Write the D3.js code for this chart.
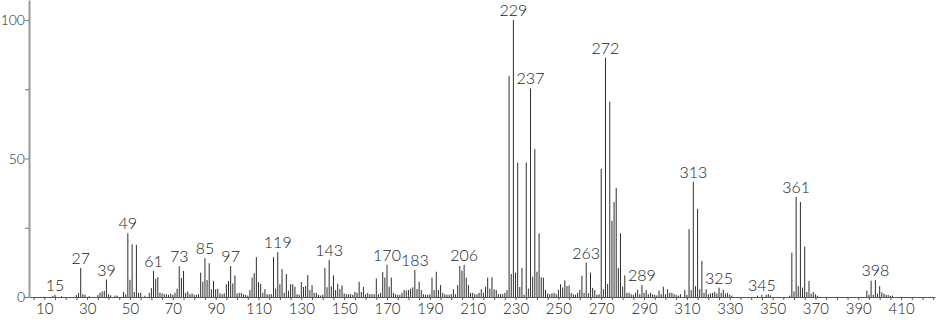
<!DOCTYPE html>
<html>
<head>
<meta charset="utf-8">
<script src="https://cdn.jsdelivr.net/npm/d3@7"></script>
<style>
  html, body { margin: 0; padding: 0; background: #fff; }
  svg { display: block; }
  text { font-family: Lato, "Open Sans", sans-serif; font-weight: 300; fill: #1a1a1a; }
</style>
</head>
<body>
<svg id="chart" width="940" height="320"></svg>
<script>
// m/z values and relative intensities (%)
const mz = [
  14,15,18,25,26,27,28,29,31,35,36,37,38,39,40,41,43,44,47,48,49,50,51,52,53,54,55,57,59,60,
  61,62,63,64,65,66,67,68,69,70,71,72,73,74,75,76,77,78,79,80,81,82,83,84,85,86,87,88,89,90,
  91,92,93,94,95,96,97,98,99,100,101,102,103,104,105,106,107,108,109,110,111,112,113,114,115,116,117,118,119,120,
  121,122,123,124,125,126,127,128,129,130,131,132,133,134,135,136,137,138,139,140,141,142,143,144,145,146,147,148,149,150,
  151,152,153,154,155,156,157,158,159,160,161,162,163,164,165,166,167,168,169,170,171,172,173,174,175,176,177,178,179,180,
  181,182,183,184,185,186,187,188,189,190,191,192,193,194,195,196,197,198,199,200,201,202,203,204,205,206,207,208,209,210,
  211,212,213,214,215,216,217,218,219,220,221,222,223,224,225,226,227,228,229,230,231,232,233,234,235,236,237,238,239,240,
  241,242,243,244,245,246,247,248,249,250,251,252,253,254,255,256,257,258,259,260,261,262,263,264,265,266,267,268,269,270,
  271,272,273,274,275,276,277,278,279,280,281,282,283,284,285,286,287,288,289,290,291,292,293,294,295,296,297,298,299,300,
  301,302,303,304,305,306,307,309,310,311,312,313,314,315,316,317,318,319,320,321,322,323,324,325,326,327,328,329,330,331,
  343,345,347,348,349,358,359,360,361,362,363,364,365,366,367,368,369,370,371,
  394,395,396,397,398,399,400,401,402,403,404,405,406
];
const intensity = [
  0.4,0.8,0.3,0.7,1.5,10.5,1,0.8,0.3,0.7,1.5,2,2.2,6.3,1,0.6,0.5,0.5,1.8,1,23,6.2,19,1.8,18.8,1.5,1.5,0.5,1.5,3.2,
  9.4,6.5,7.1,1.5,1.3,1,1,0.8,1.2,0.8,1.5,3,11.1,6.9,9.4,1.5,2,1,1.3,0.8,0.8,1,8.8,5.5,14,6.1,12.2,2.8,5.8,2.8,
  3,1.3,1,1.3,4.6,5.8,11.2,4.9,7.8,1.3,1.5,1.5,1,0.8,0.5,2.5,7,8.6,14.4,5.4,4.7,1.5,2.8,1,1,1,14.4,3,16.2,4.6,
  10.1,1.5,8.3,2.3,4.6,4.6,3.7,1,0.8,5.4,3.6,4,7.9,2.5,4.3,1.5,1.5,0.8,0.5,0.8,10.5,3.5,13.4,3.8,7.8,2.5,4.8,2.8,4.2,1.3,
  1,1,1,0.8,1.8,1.5,5.5,1.8,3.6,1,1.5,1,1,1,6.7,1,1.5,9,7,11.6,3.7,7,1.5,1,0.8,0.8,1.5,2.5,2.3,2.5,
  3,3.5,9.7,2.9,5.5,2.5,1,0.8,0.8,1,7,2.5,9.1,2.5,4.3,1.5,1,0.8,0.8,1,2.8,1,4.3,11.2,9.5,11.6,7,4.3,1.5,1.5,
  1,1,1.5,2.8,1.5,3.7,7,3,7.1,2.8,2.5,1,1,1,1.5,2.5,79.8,8.3,100,8.8,48.5,3.6,10.5,0.8,48.5,3,75.3,7.3,53.4,9.1,
  23,7.1,7,2.5,1.3,1,1.3,1.5,1,2.6,4.6,3.4,6,4,4.2,1.5,1,0.8,1.5,2.6,7.7,1.5,12.4,1.4,8.8,3.3,2.5,0.8,1,46.3,
  2.8,86.4,4.7,70.5,27.5,34.3,39.4,10.5,23,3.7,7.8,1.5,1.5,1,0.8,1.5,2.6,1,4.3,1.5,2.5,1,1.5,1,0.8,0.6,2.3,1,3.7,1,
  2.8,1.5,1.5,1,0.8,0.5,1,2.5,0.8,24.5,2.5,41.6,3.9,31.8,2.8,13,1.5,2.8,1,1.3,1.5,1.8,1.2,3.4,1.5,2.6,1.2,1.5,0.8,0.5,
  0.5,0.8,0.8,1,0.6,0.5,16,2,36.1,3.9,34.3,3.4,18.2,1.8,5.8,1.2,1.8,1,0.5,
  2.3,0.8,5.9,0.8,6.1,1.2,3.9,1.7,1.2,0.8,0.7,0.4,0.5
];
const labeledPeaks = [15,27,39,49,61,73,85,97,119,143,170,183,206,229,237,263,272,289,313,325,345,361,398];
const xTickLabels = [10,30,50,70,90,110,130,150,170,190,210,230,250,270,290,310,330,350,370,390,410];
const xMinorTicks = d3.range(5, 426, 5);
const yTickLabels = [0,50,100];
const yMinorTicks = [0,25,50,75,100];

const svg = d3.select("#chart");
const x = d3.scaleLinear().domain([2.86, 425.83]).range([29, 935]);
const y = d3.scaleLinear().domain([0, 107.2]).range([297, 0]);

const data = mz.map((m, i) => ({ m, v: intensity[i] }));
const valueOf = new Map(data.map(d => [d.m, d.v]));

// bars
svg.append("g").selectAll("line").data(data).join("line")
  .attr("x1", d => x(d.m)).attr("x2", d => x(d.m))
  .attr("y1", y(0)).attr("y2", d => y(d.v))
  .attr("stroke", "#2e2e2e").attr("stroke-width", 1);

// x axis
const xAxis = d3.axisBottom(x)
  .tickValues(xMinorTicks)
  .tickSize(3).tickSizeOuter(0)
  .tickFormat(d => xTickLabels.includes(d) ? d : "");
const gx = svg.append("g").attr("transform", `translate(0,${y(0)})`).call(xAxis);
gx.select(".domain").attr("stroke", "#555");
gx.selectAll(".tick line").attr("stroke", "#555");
gx.selectAll("text").attr("font-size", 15).attr("dy", "0.71em").attr("y", 6)
  .style("font-family", "Lato, sans-serif").style("font-weight", 300).attr("fill", "#1a1a1a");

// y axis
const yAxis = d3.axisLeft(y)
  .tickValues(yMinorTicks)
  .tickSize(4).tickSizeOuter(0)
  .tickFormat(d => yTickLabels.includes(d) ? d : "");
const gy = svg.append("g").attr("transform", `translate(29,0)`).call(yAxis);
gy.select(".domain").attr("stroke", "#999").attr("stroke-width", 2);
gy.selectAll(".tick line").attr("stroke", "#777");
gy.selectAll("text").attr("font-size", 14).attr("x", -4).attr("dy", "0.35em")
  .style("font-family", "Lato, sans-serif").style("font-weight", 300).attr("fill", "#1a1a1a");

// peak labels
svg.append("g").selectAll("text").data(labeledPeaks).join("text")
  .attr("x", d => x(d))
  .attr("y", d => y(valueOf.get(d)) - 4)
  .attr("text-anchor", "middle")
  .attr("font-size", 16)
  .text(d => d);
</script>
</body>
</html>
